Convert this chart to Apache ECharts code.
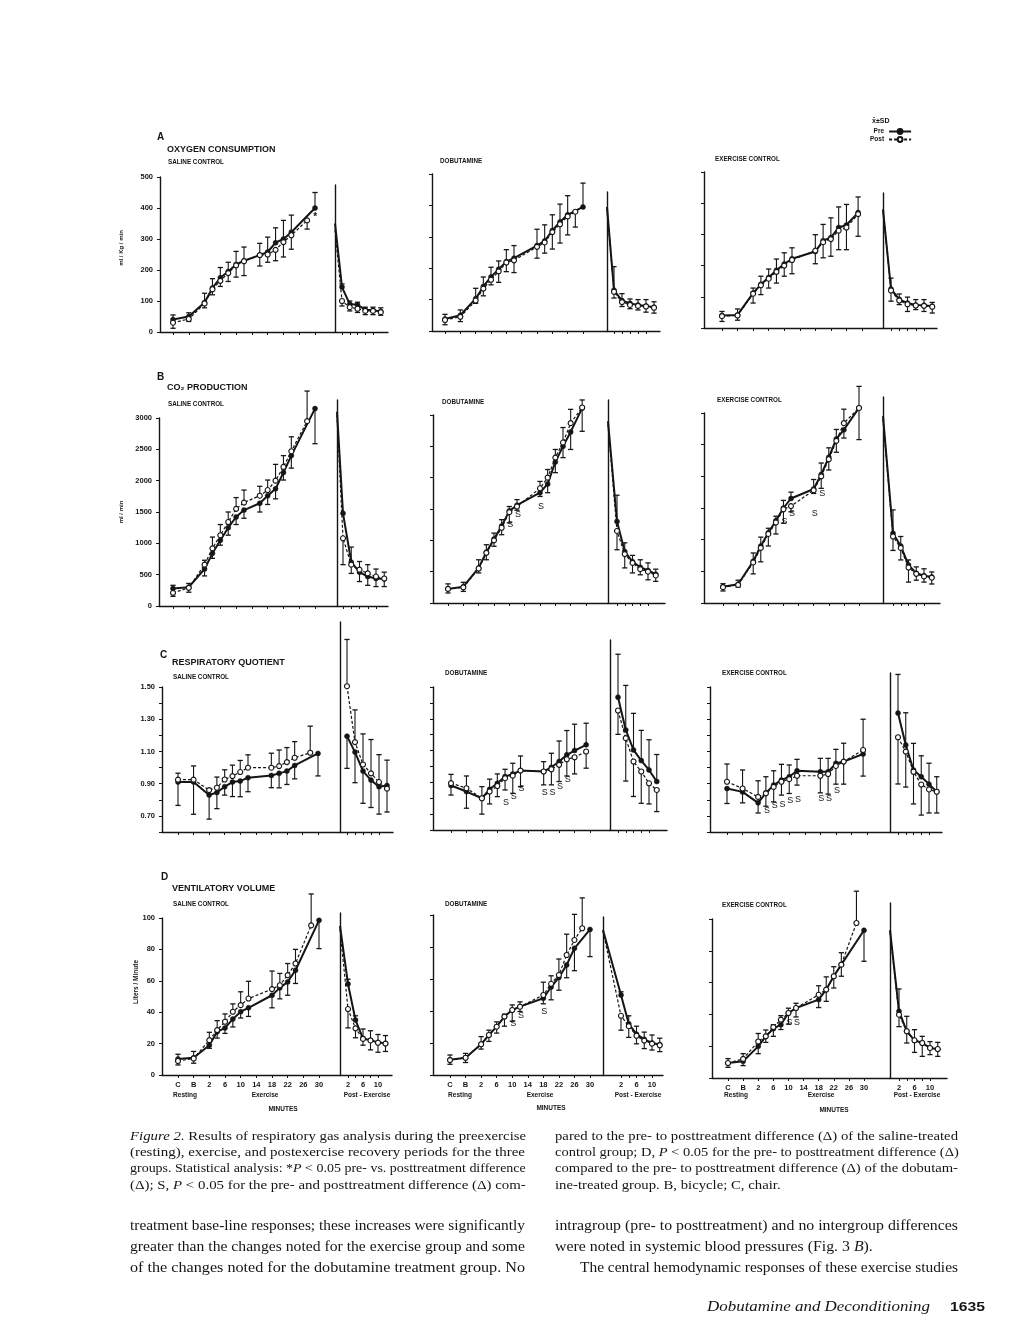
<!DOCTYPE html>
<html><head><meta charset="utf-8">
<script src="https://cdn.jsdelivr.net/npm/echarts@6/dist/echarts.min.js"></script>
<style>html,body{margin:0;padding:0;background:#fff}#c{width:1020px;height:1320px}</style>
</head><body><div id="c"></div>
<script>
// ---------- categories / ticks ----------
const TIME = {C: -6, B: -2};               // resting points placed on the exercise time axis
const EX_TICKS = ['C', 'B', 2, 6, 10, 14, 18, 22, 26, 30];
const POST_TICKS = [2, 4, 6, 8, 10];
const POST_LABELS = [2, 6, 10];
// 'E' = end of exercise, drawn on the recovery axis origin (separator line)

// ---------- values: [time, mean, SD (signed: + drawn up, - drawn down)] ----------
// A  Oxygen consumption (ml/Kg/min)
const o2SalExPre  = [['C',40,15],['B',50,12],[2,95,30],[4,142,30],[6,175,33],[8,195,30],[10,218,42],[12,230,44],[16,248,38],[18,258,48],[20,288,48],[22,300,60],[24,322,55],[30,400,50]];
const o2SalExPost = [['C',30,-18],['B',42,-8],[2,92,-14],[4,138,-18],[6,165,-18],[8,190,-27],[10,215,-38],[12,228,-46],[16,248,-35],[18,250,-25],[20,265,-35],[22,290,-48],[24,312,-45],[28,360,-28]];
const o2SalRecPre  = [['E',350,0],[2,145,10],[4,90,10],[6,88,8],[8,72,8],[10,70,10],[12,66,12]];
const o2SalRecPost = [['E',330,0],[2,100,-16],[4,80,-12],[6,75,-12],[8,68,-12],[10,68,-12],[12,64,-10]];
const o2SalStar = [[28,360]];
const o2DobExPre  = [['C',38,15],['B',50,17],[2,103,33],[4,142,30],[6,172,31],[8,197,26],[10,221,38],[12,232,40],[18,272,52],[20,287,51],[22,320,50],[24,347,57],[26,370,61],[30,395,76]];
const o2DobExPost = [['C',35,-15],['B',45,-15],[2,97,-9],[4,135,-23],[6,163,-16],[8,190,-35],[10,218,-29],[12,225,-39],[18,268,-36],[20,282,-34],[22,315,-54],[24,340,-60],[26,365,-59],[28,380,-49]];
const o2DobRecPre  = [['E',395,0],[2,130,75],[4,97,22],[6,88,14],[8,83,17],[10,80,20],[12,76,17]];
const o2DobRecPost = [['E',390,0],[2,125,-20],[4,92,-14],[6,83,-12],[8,80,-13],[10,78,-18],[12,74,-17]];
const o2ExExPre  = [['C',40,13],['B',42,19],[2,112,16],[4,140,26],[6,162,27],[8,185,36],[10,205,36],[12,222,35],[18,245,54],[20,280,52],[22,290,63],[24,322,66],[26,330,66],[29,370,50]];
const o2ExExPost = [['C',38,-17],['B',40,-15],[2,110,-30],[4,137,-30],[6,158,-30],[8,180,-36],[10,200,-34],[12,218,-44],[18,248,-42],[20,275,-50],[22,285,-55],[24,312,-61],[26,322,-71],[29,365,-71]];
const o2ExRecPre  = [['E',380,0],[2,125,35],[4,92,17],[6,80,19],[8,74,17],[10,73,18],[12,70,12]];
const o2ExRecPost = [['E',375,0],[2,120,-34],[4,88,-13],[6,76,-23],[8,72,-13],[10,71,-18],[12,68,-20]];

// B  CO2 production (ml/min)
const co2SalExPre  = [['C',280,50],['B',300,60],[2,590,-110],[4,840,-80],[6,1050,-80],[8,1250,-120],[10,1420,-120],[12,1530,-130],[16,1640,-140],[18,1760,-140],[20,1870,-160],[22,2130,-120],[24,2400,-200],[30,3150,-560]];
const co2SalExPost = [['C',210,-55],['B',290,-70],[2,660,70],[4,920,180],[6,1130,170],[8,1340,160],[10,1550,180],[12,1650,200],[16,1760,150],[18,1850,160],[20,2000,260],[22,2220,180],[24,2470,230],[28,2950,480]];
const co2SalRecPre  = [['E',3100,0],[2,1480,0],[4,700,240],[6,540,-150],[8,470,-140],[10,440,-130],[12,430,-120]];
const co2SalRecPost = [['E',3050,0],[2,1080,-420],[4,660,-140],[6,580,130],[8,520,140],[10,470,120],[12,440,100]];
const co2DobExPre  = [['C',225,80],['B',260,70],[2,560,130],[4,810,120],[6,1020,95],[8,1230,100],[10,1470,70],[12,1560,90],[18,1760,-60],[20,1900,-140],[22,2250,-170],[24,2500,-180],[26,2730,-280],[29,3110,-370]];
const co2DobExPost = [['C',225,-65],['B',250,-65],[2,550,-70],[4,800,-110],[6,1000,-95],[8,1200,-110],[10,1450,-170],[12,1540,-60],[18,1830,110],[20,2000,130],[22,2320,130],[24,2560,240],[26,2870,220],[29,3120,120]];
const co2DobRecPre  = [['E',2900,0],[2,1300,420],[4,820,140],[6,660,100],[8,570,120],[10,520,120],[12,460,80]];
const co2DobRecPost = [['E',2850,0],[2,1150,-300],[4,780,-220],[6,640,-160],[8,540,-90],[10,500,-130],[12,440,-95]];
const co2DobS = [[10,1250],[12,1410],[18,1540]];
const co2ExExPre  = [['C',255,50],['B',295,65],[2,660,130],[4,900,140],[6,1110,70],[8,1300,70],[10,1500,120],[12,1650,100],[18,1800,150],[20,2030,180],[22,2300,150],[24,2590,150],[26,2735,-130],[30,3080,340]];
const co2ExExPost = [['C',250,-60],['B',285,-35],[2,640,-180],[4,870,-220],[6,1090,-190],[8,1270,-180],[10,1480,-220],[12,1530,-90],[18,1780,-50],[20,2000,-190],[22,2270,-170],[24,2560,-180],[26,2840,220],[30,3080,-500]];
const co2ExRecPre  = [['E',2950,0],[2,1100,370],[4,900,150],[6,600,80],[8,470,100],[10,430,110],[12,410,80]];
const co2ExRecPost = [['E',2900,0],[2,1050,-220],[4,870,-190],[6,560,-230],[8,460,-100],[10,420,-90],[12,400,-100]];
const co2ExS = [[10,1280],[12,1410],[18,1410],[20,1730]];

// C  Respiratory quotient
const rqSalExPre  = [['C',0.91,-0.145],['B',0.91,-0.2],[2,0.83,-0.15],[4,0.845,-0.1],[6,0.881,-0.052],[8,0.91,-0.09],[10,0.916,-0.097],[12,0.937,-0.087],[18,0.951,-0.076],[20,0.964,-0.09],[22,0.978,-0.083],[24,1.013,-0.083],[30,1.088,-0.14]];
const rqSalExPost = [['C',0.925,0.04],['B',0.925,0.085],[2,0.86,0.01],[4,0.875,0.066],[6,0.926,0.06],[8,0.947,0.068],[10,0.972,0.072],[12,0.999,0.08],[18,0.999,0.09],[20,1.009,0.1],[22,1.034,0.09],[24,1.061,0.1],[28,1.092,0.165]];
const rqSalRecPre  = [[2,1.195,-0.2],[4,1.096,-0.19],[6,0.978,-0.2],[8,0.922,-0.17],[10,0.881,-0.17],[12,0.889,0.157]];
const rqSalRecPost = [[2,1.505,0.29],[4,1.158,0.2],[6,1.019,0.19],[8,0.964,0.21],[10,0.91,0.17],[12,0.869,-0.145]];
const rqDobExPre  = [['C',0.88,0.07],['B',0.842,-0.105],[2,0.80,-0.1],[4,0.856,0.064],[6,0.894,0.059],[8,0.936,0.046],[10,0.953,0.067],[12,0.974,0.092],[18,0.968,0.062],[20,0.995,0.088],[22,1.031,0.129],[24,1.073,0.153],[26,1.10,0.166],[29,1.136,0.136]];
const rqDobExPost = [['C',0.895,-0.075],['B',0.863,0.077],[2,0.80,0.073],[4,0.842,-0.078],[6,0.877,-0.067],[8,0.926,-0.074],[10,0.942,-0.111],[12,0.974,-0.101],[18,0.968,-0.084],[20,0.982,-0.098],[22,1.01,-0.105],[24,1.045,-0.105],[26,1.058,-0.105],[29,1.094,-0.105]];
const rqDobRecPre  = [[2,1.436,0.27],[4,1.23,0.28],[6,1.104,0.23],[8,1.037,0.19],[10,0.978,0.19],[12,0.905,0.17]];
const rqDobRecPost = [[2,1.352,-0.15],[4,1.178,-0.27],[6,1.031,-0.22],[8,0.968,-0.2],[10,0.894,-0.13],[12,0.852,-0.136]];
const rqDobS = [[8,0.772],[10,0.81],[12,0.863],[18,0.835],[20,0.835],[22,0.873],[24,0.919]];
const rqExExPre  = [['C',0.87,-0.093],['B',0.849,-0.068],[2,0.781,-0.063],[4,0.843,0.1],[6,0.891,0.089],[8,0.922,0.098],[10,0.943,0.073],[12,0.98,0.071],[18,0.974,0.083],[20,0.974,0.083],[22,1.026,0.087],[24,1.037,0.114],[29,1.084,-0.137]];
const rqExExPost = [['C',0.912,0.11],['B',0.87,0.115],[2,0.818,0.1],[4,0.84,-0.08],[6,0.88,-0.093],[8,0.912,-0.083],[10,0.928,-0.089],[12,0.949,-0.058],[18,0.949,-0.106],[20,0.96,-0.125],[22,1.01,-0.113],[24,1.037,-0.14],[29,1.109,0.191]];
const rqExRecPre  = [[2,1.338,0.24],[4,1.14,0.2],[6,0.985,0.165],[8,0.943,0.13],[10,0.897,0.13],[12,0.85,0.093]];
const rqExRecPost = [[2,1.188,-0.29],[4,1.099,-0.22],[6,0.974,-0.2],[8,0.895,-0.19],[10,0.864,-0.146],[12,0.85,-0.132]];
const rqExS = [[4,0.735],[6,0.766],[8,0.772],[10,0.797],[12,0.801],[18,0.807],[20,0.807],[22,0.858]];

// D  Ventilatory volume (Liters/Minute)
const veSalExPre  = [['C',10.2,3],['B',11,4],[2,19,-2],[4,27.5,-4],[6,30,-3.5],[8,35.6,-5],[10,40.3,-4],[12,42.8,-5.5],[18,50.8,-8],[20,55.5,-7],[22,59.3,-8.5],[24,66.7,-8.4],[30,98.5,-18]];
const veSalExPost = [['C',8.9,-2.5],['B',10.5,-3],[2,22.2,5],[4,28.6,6],[6,33.9,5],[8,40.3,5],[10,44.5,8.5],[12,48.7,11],[18,54.7,11.5],[20,57.2,7.5],[22,63.6,7.4],[24,71,9],[28,95.3,20]];
const veSalRecPre  = [['E',95,0],[2,58,3],[4,35,2.7],[6,23.3,6],[8,22.2,6],[10,20.8,5],[12,20.1,5]];
const veSalRecPost = [['E',93,0],[2,42,-12],[4,29.7,-6],[6,23,-4],[8,22,-6],[10,20.5,-6],[12,20,-5]];
const veDobExPre  = [['C',9.5,3],['B',10.8,2.7],[2,19.2,4.8],[4,25,3],[6,30.2,3],[8,36.5,1.5],[10,40.6,3.2],[12,42.7,3],[18,48,-3.5],[20,55,-8],[22,61,-8],[24,68.8,-8],[26,79.2,-14],[30,91,-17]];
const veDobExPost = [['C',9.3,-2.6],['B',10.8,-3],[2,19.2,-3],[4,25,-4],[6,30.2,-4],[8,36.5,-6],[10,40.6,-7],[12,42.7,-3],[18,50,8],[20,57,5],[22,62.5,10],[24,75,13],[26,84.4,16],[28,91.7,19]];
const veDobRecPre  = [['E',90.6,0],[2,50,2],[4,32,5],[6,25.5,5],[8,22.3,4.5],[10,20,5],[12,19,4]];
const veDobRecPost = [['E',90,0],[2,37,-9],[4,30.5,-7],[6,24.5,-5],[8,21.5,-5],[10,19.6,-4],[12,18.6,-4]];
const veDobS = [[10,32.3],[12,36.9],[18,39.6]];
const veExExPre  = [['C',9.4,2.8],['B',10.5,-2.7],[2,19.9,-4.6],[4,26.2,4],[6,31,2.5],[8,33.5,-3],[10,40.9,3],[12,44,3],[18,49.3,-5],[20,55.6,8],[22,64,6],[24,71.3,7.5],[30,92.9,-19.5]];
const veExExPost = [['C',9.4,-2.7],['B',12,3.3],[2,23,5],[4,26.2,-3.8],[6,32,-5.8],[8,36.7,2.5],[10,40.9,-7],[12,44,-5.6],[18,52.4,5.6],[20,55.6,-7.4],[22,64,-7.4],[24,71.3,-7.3],[28,97.5,20]];
const veExRecPre  = [['E',93,0],[2,42,14],[4,29.4,9.4],[6,23.7,6.7],[8,22,4.2],[10,18.9,4],[12,18.2,4.2]];
const veExRecPost = [['E',92,0],[2,39.8,-7.5],[4,29.4,-7.4],[6,23.7,-7.6],[8,22,-8.4],[10,18.9,-4.2],[12,18.2,-4.6]];
const veExS = [[10,34.6],[12,35]];

// y-axis tick labels per row
const Y_TICKS_A = [0,100,200,300,400,500];
const Y_TICKS_B = [0,500,1000,1500,2000,2500,3000];
const Y_TICKS_C = ['0.70','0.90','1.10','1.30','1.50'];
const Y_TICKS_D = [0,20,40,60,80,100];

// ---------- layout (pixels) ----------
const INK = '#151515';
const SANS = 'Liberation Sans';
const SERIF = 'Liberation Serif';
const ROWSPEC = [
  {min:0, max:500, interval:100, fmt: v => Y_TICKS_A.indexOf(Math.round(v)) >= 0 ? String(Math.round(v)) : ''},
  {min:0, max:3000, interval:500, fmt: v => Y_TICKS_B.indexOf(Math.round(v)) >= 0 ? String(Math.round(v)) : ''},
  {min:0.6, max:1.5, interval:0.1, fmt: v => { const s = v.toFixed(2); return Y_TICKS_C.indexOf(s) >= 0 ? s : ''; }},
  {min:0, max:100, interval:20, fmt: v => Y_TICKS_D.indexOf(Math.round(v)) >= 0 ? String(Math.round(v)) : ''}
];
const LAYOUT = [
 {x0:160,pC:173,p30:315,xSep:335,p2:342,p10:373,xEnd:388,yB:332,yT:177,sepT:185},
 {x0:432,pC:445,p30:583,xSep:607,p2:614,p10:646,xEnd:660,yB:331,yT:174,sepT:192},
 {x0:704,pC:722,p30:862,xSep:883,p2:891,p10:924,xEnd:937,yB:328,yT:172,sepT:193},
 {x0:159,pC:173,p30:315,xSep:337,p2:343,p10:376,xEnd:388,yB:606,yT:418,sepT:400},
 {x0:433,pC:448,p30:586,xSep:608,p2:617,p10:648,xEnd:665,yB:603,yT:415,sepT:400},
 {x0:704,pC:723,p30:859,xSep:883,p2:893,p10:924,xEnd:940,yB:603,yT:413,sepT:397},
 {x0:162,pC:178,p30:318,xSep:340,p2:347,p10:379,xEnd:393,yB:832,yT:687,sepT:622},
 {x0:433,pC:451,p30:590,xSep:610,p2:618,p10:649,xEnd:667,yB:830,yT:687,sepT:640},
 {x0:710,pC:727,p30:867,xSep:890,p2:898,p10:929,xEnd:942,yB:832,yT:687,sepT:673},
 {x0:162,pC:178,p30:319,xSep:340,p2:348,p10:378,xEnd:392,yB:1075,yT:918,sepT:913},
 {x0:433,pC:450,p30:590,xSep:603,p2:621,p10:652,xEnd:663,yB:1075,yT:915,sepT:917},
 {x0:712,pC:728,p30:864,xSep:890,p2:899,p10:930,xEnd:947,yB:1078,yT:919,sepT:903}
];
const PANELS = [
 {row:0,col:0,exPre:o2SalExPre,exPost:o2SalExPost,recPre:o2SalRecPre,recPost:o2SalRecPost,marks:o2SalStar,mark:'*'},
 {row:0,col:1,exPre:o2DobExPre,exPost:o2DobExPost,recPre:o2DobRecPre,recPost:o2DobRecPost},
 {row:0,col:2,exPre:o2ExExPre,exPost:o2ExExPost,recPre:o2ExRecPre,recPost:o2ExRecPost},
 {row:1,col:0,exPre:co2SalExPre,exPost:co2SalExPost,recPre:co2SalRecPre,recPost:co2SalRecPost},
 {row:1,col:1,exPre:co2DobExPre,exPost:co2DobExPost,recPre:co2DobRecPre,recPost:co2DobRecPost,marks:co2DobS,mark:'S'},
 {row:1,col:2,exPre:co2ExExPre,exPost:co2ExExPost,recPre:co2ExRecPre,recPost:co2ExRecPost,marks:co2ExS,mark:'S'},
 {row:2,col:0,exPre:rqSalExPre,exPost:rqSalExPost,recPre:rqSalRecPre,recPost:rqSalRecPost},
 {row:2,col:1,exPre:rqDobExPre,exPost:rqDobExPost,recPre:rqDobRecPre,recPost:rqDobRecPost,marks:rqDobS,mark:'S'},
 {row:2,col:2,exPre:rqExExPre,exPost:rqExExPost,recPre:rqExRecPre,recPost:rqExRecPost,marks:rqExS,mark:'S'},
 {row:3,col:0,exPre:veSalExPre,exPost:veSalExPost,recPre:veSalRecPre,recPost:veSalRecPost},
 {row:3,col:1,exPre:veDobExPre,exPost:veDobExPost,recPre:veDobRecPre,recPost:veDobRecPost,marks:veDobS,mark:'S'},
 {row:3,col:2,exPre:veExExPre,exPost:veExExPost,recPre:veExRecPre,recPost:veExRecPost,marks:veExS,mark:'S'}
];

function errRender(params, api) {
  const x = api.value(0), m = api.value(1), sd = api.value(2);
  if (!sd) return null;
  const p0 = api.coord([x, m]), p1 = api.coord([x, m + sd]);
  const w = 2.6;
  return {type:'group', children:[
    {type:'line', shape:{x1:p0[0],y1:p0[1],x2:p1[0],y2:p1[1]}, style:{stroke:INK,lineWidth:1.1}},
    {type:'line', shape:{x1:p1[0]-w,y1:p1[1],x2:p1[0]+w,y2:p1[1]}, style:{stroke:INK,lineWidth:1.3}}
  ]};
}
function markRender(text) {
  return function (params, api) {
    const p = api.coord([api.value(0), api.value(1)]);
    const star = text === '*';
    return {type:'text', x: p[0] + (star ? 8 : 1), y: p[1] - (star ? 3 : 0),
      style:{text:text, fill:INK, font:(star ? 'bold 10px ' : '9px ') + SANS, align:'center', verticalAlign:'middle'}};
  };
}
function lineSeries(name, pts, xi, dashed) {
  return {
    type:'line', name:name, xAxisIndex:xi, yAxisIndex:xi, clip:false, z: dashed ? 4 : 3,
    data: pts.map(p => ({value:[p[0], p[1]], symbol: p[2] ? 'none' : 'circle'})),
    symbol:'circle', symbolSize:5, showSymbol:true,
    lineStyle: dashed ? {color:INK, width:1.2, type:[3,2]} : {color:INK, width:2},
    itemStyle: dashed ? {color:'#ffffff', borderColor:INK, borderWidth:1.1} : {color:INK, borderColor:INK, borderWidth:0.5},
    emphasis:{disabled:true}, silent:true
  };
}
function errSeries(pts, xi) {
  return {type:'custom', xAxisIndex:xi, yAxisIndex:xi, clip:false, z:2, silent:true,
    data: pts.map(p => [p[0], p[1], p[3]]), encode:{x:0, y:1}, renderItem: errRender};
}
// convert data rows to [x, mean, isStart, sd]
function prep(rows, startX) {
  return rows.map(d => {
    if (d[0] === 'E') return [startX, d[1], true, d[2]];
    return [typeof d[0] === 'string' ? TIME[d[0]] : d[0], d[1], false, d[2]];
  });
}

const axisLabelStyle = {color:INK, fontFamily:SANS, fontWeight:'bold', fontSize:7.5};
const option = {backgroundColor:'#ffffff', animation:false, grid:[], xAxis:[], yAxis:[], series:[], graphic:[],
  legend:{data:['Pre','Post'], orient:'vertical', left:870, top:128, align:'right', itemWidth:22, itemHeight:6, itemGap:1, padding:0,
    selectedMode:false, textStyle:{color:INK, fontFamily:SANS, fontWeight:'bold', fontSize:6.5}}};

PANELS.forEach((P, i) => {
  const L = LAYOUT[i], R = ROWSPEC[P.row], lastRow = P.row === 3;
  // exercise part
  const ppu = (L.p30 - L.pC) / 36;
  const exMin = -6 - (L.pC - L.x0) / ppu, exMax = 30 + (L.xSep - L.p30) / ppu;
  let gi = option.grid.length;
  option.grid.push({left:L.x0, top:L.yT, width:L.xSep - L.x0, height:L.yB - L.yT, containLabel:false, outerBoundsMode:'none'});
  const exTickVals = EX_TICKS.map(v => typeof v === 'string' ? TIME[v] : v);
  option.xAxis.push({gridIndex:gi, type:'value', min:exMin, max:exMax,
    axisLine:{show:true, onZero:false, lineStyle:{color:INK, width:1.4}},
    axisTick:{show:true, length:3, customValues:exTickVals, lineStyle:{color:INK, width:1}},
    axisLabel:Object.assign({show:lastRow, margin:6, customValues:exTickVals,
      formatter: v => { const k = exTickVals.indexOf(v); return k >= 0 ? String(EX_TICKS[k]) : String(v); }}, axisLabelStyle),
    splitLine:{show:false}});
  option.yAxis.push({gridIndex:gi, type:'value', min:R.min, max:R.max, interval:R.interval,
    axisLine:{show:true, onZero:false, lineStyle:{color:INK, width:1.4}},
    axisTick:{show:true, length:3, lineStyle:{color:INK, width:1}},
    axisLabel:Object.assign({show:P.col === 0, margin:7, formatter:R.fmt}, axisLabelStyle),
    splitLine:{show:false}});
  const ePre = prep(P.exPre, 0), ePost = prep(P.exPost, 0);
  option.series.push(errSeries(ePre, gi), errSeries(ePost, gi),
    lineSeries('Pre', ePre, gi, false), lineSeries('Post', ePost, gi, true));
  if (P.marks) option.series.push({type:'custom', xAxisIndex:gi, yAxisIndex:gi, clip:false, z:5, silent:true,
    data:P.marks, encode:{x:0, y:1}, renderItem:markRender(P.mark)});

  // post-exercise part
  const ppp = (L.p10 - L.p2) / 8;
  const pMin = 2 - (L.p2 - L.xSep) / ppp, pMax = 10 + (L.xEnd - L.p10) / ppp;
  const yMaxPost = R.min + (L.yB - L.sepT) / (L.yB - L.yT) * (R.max - R.min);
  gi = option.grid.length;
  option.grid.push({left:L.xSep, top:L.sepT, width:L.xEnd - L.xSep, height:L.yB - L.sepT, containLabel:false, outerBoundsMode:'none'});
  option.xAxis.push({gridIndex:gi, type:'value', min:pMin, max:pMax,
    axisLine:{show:true, onZero:false, lineStyle:{color:INK, width:1.4}},
    axisTick:{show:true, length:3, customValues:POST_TICKS, lineStyle:{color:INK, width:1}},
    axisLabel:Object.assign({show:lastRow, margin:6, customValues:POST_LABELS}, axisLabelStyle),
    splitLine:{show:false}});
  option.yAxis.push({gridIndex:gi, type:'value', min:R.min, max:yMaxPost,
    axisLine:{show:true, onZero:false, lineStyle:{color:INK, width:1.4}},
    axisTick:{show:false}, axisLabel:{show:false}, splitLine:{show:false}});
  const rPre = prep(P.recPre, pMin), rPost = prep(P.recPost, pMin);
  option.series.push(errSeries(rPre, gi), errSeries(rPost, gi),
    lineSeries('Pre', rPre, gi, false), lineSeries('Post', rPost, gi, true));
});

// ---------- texts ----------
const measCtx = document.createElement('canvas').getContext('2d');
function measure(text, font) {
  measCtx.font = font;
  return measCtx.measureText(text.replace(/\{i\|([^}]*)\}/g, '$1')).width;
}
function txt(x, y, text, font, extra) {
  return {type:'text', x:x, y:y, silent:true,
    style:Object.assign({text:text, fill:INK, font:font, verticalAlign:'middle', align:'left'}, (extra || {}))};
}
// text stretched horizontally to a column width (justified look)
function fitTxt(x, y, text, font, width, extra) {
  const el = txt(x, y, text, font, extra);
  el.scaleX = width / measure(text, font);
  return el;
}
const T_BIG = 'bold 9px ' + SANS, T_SUB = 'bold 6.3px ' + SANS, T_LET = 'bold 10px ' + SANS;
const G = option.graphic;
G.push(
  txt(157, 137, 'A', T_LET), txt(167, 150, 'OXYGEN CONSUMPTION', T_BIG), txt(168, 162, 'SALINE CONTROL', T_SUB),
  txt(440, 161, 'DOBUTAMINE', T_SUB), txt(715, 159, 'EXERCISE CONTROL', T_SUB),
  txt(157, 377, 'B', T_LET), txt(167, 388, 'CO₂ PRODUCTION', T_BIG), txt(168, 404, 'SALINE CONTROL', T_SUB),
  txt(442, 402, 'DOBUTAMINE', T_SUB), txt(717, 400, 'EXERCISE CONTROL', T_SUB),
  txt(160, 655, 'C', T_LET), txt(172, 663, 'RESPIRATORY QUOTIENT', T_BIG), txt(173, 677, 'SALINE CONTROL', T_SUB),
  txt(445, 673, 'DOBUTAMINE', T_SUB), txt(722, 673, 'EXERCISE CONTROL', T_SUB),
  txt(161, 877, 'D', T_LET), txt(172, 889, 'VENTILATORY VOLUME', T_BIG), txt(173, 904, 'SALINE CONTROL', T_SUB),
  txt(445, 904, 'DOBUTAMINE', T_SUB), txt(722, 905, 'EXERCISE CONTROL', T_SUB),
  txt(872, 121, 'x̄±SD', 'bold 7px ' + SANS)
);
G.push(
  Object.assign(txt(121, 248, 'ml / Kg / min', 'bold 6px ' + SANS, {align:'center'}), {rotation:Math.PI/2}),
  Object.assign(txt(121, 512, 'ml / min', 'bold 6px ' + SANS, {align:'center'}), {rotation:Math.PI/2}),
  Object.assign(txt(136, 982, 'Liters / Minute', 'bold 6.5px ' + SANS, {align:'center'}), {rotation:Math.PI/2})
);
const T_AX = 'bold 6.5px ' + SANS;
[[185,265,367,283,1095,1109],[460,540,638,551,1095,1108],[736,821,917,834,1095,1110]].forEach(c => {
  G.push(txt(c[0], c[4], 'Resting', T_AX, {align:'center'}),
         txt(c[1], c[4], 'Exercise', T_AX, {align:'center'}),
         txt(c[2], c[4], 'Post - Exercise', T_AX, {align:'center'}),
         txt(c[3], c[5], 'MINUTES', T_AX, {align:'center'}));
});
// caption and body text
const CAP = '13px ' + SERIF, BODY = '14.8px ' + SERIF;
const capRich = {i:{fontStyle:'italic', fontFamily:SERIF, fontSize:13}};
const bodyRich = {i:{fontStyle:'italic', fontFamily:SERIF, fontSize:14.8}};
const capLeft = ['{i|Figure 2.} Results of respiratory gas analysis during the preexercise',
  '(resting), exercise, and postexercise recovery periods for the three',
  'groups. Statistical analysis: *{i|P} < 0.05 pre- vs. posttreatment difference',
  '(Δ); S, {i|P} < 0.05 for the pre- and posttreatment difference (Δ) com-'];
const capRight = ['pared to the pre- to posttreatment difference (Δ) of the saline-treated',
  'control group; D, {i|P} < 0.05 for the pre- to posttreatment difference (Δ)',
  'compared to the pre- to posttreatment difference (Δ) of the dobutam-',
  'ine-treated group. B, bicycle; C, chair.'];
const capY = [1137, 1153, 1169, 1186];
capLeft.forEach((s, k) => G.push(fitTxt(130, capY[k], s, CAP, 395, {rich:capRich})));
const capScale = 403 / measure(capRight[0], CAP);
capRight.forEach((s, k) => {
  const w = k < 3 ? 403 : measure(s, CAP) * capScale;
  G.push(fitTxt(555, capY[k], s, CAP, w, {rich:capRich}));
});
const bodyY = [1226, 1247, 1268];
['treatment base-line responses; these increases were significantly',
 'greater than the changes noted for the exercise group and some',
 'of the changes noted for the dobutamine treatment group. No'].forEach((s, k) => G.push(fitTxt(130, bodyY[k], s, BODY, 395)));
const bodyR0 = 'intragroup (pre- to posttreatment) and no intergroup differences';
const bodyScale = 403 / measure(bodyR0, BODY);
const bodyR1 = 'were noted in systemic blood pressures (Fig. 3 {i|B}).';
G.push(fitTxt(555, bodyY[0], bodyR0, BODY, 403),
       fitTxt(555, bodyY[1], bodyR1, BODY, measure(bodyR1, BODY) * bodyScale, {rich:bodyRich}),
       fitTxt(580, bodyY[2], 'The central hemodynamic responses of these exercise studies', BODY, 378));
G.push(fitTxt(707, 1307, 'Dobutamine and Deconditioning', 'italic 14.5px ' + SERIF, 223),
       fitTxt(950, 1307, '1635', 'bold 13.5px ' + SANS, 35));

const chart = echarts.init(document.getElementById('c'), null, {renderer:'canvas'});
chart.setOption(option);
</script></body></html>
